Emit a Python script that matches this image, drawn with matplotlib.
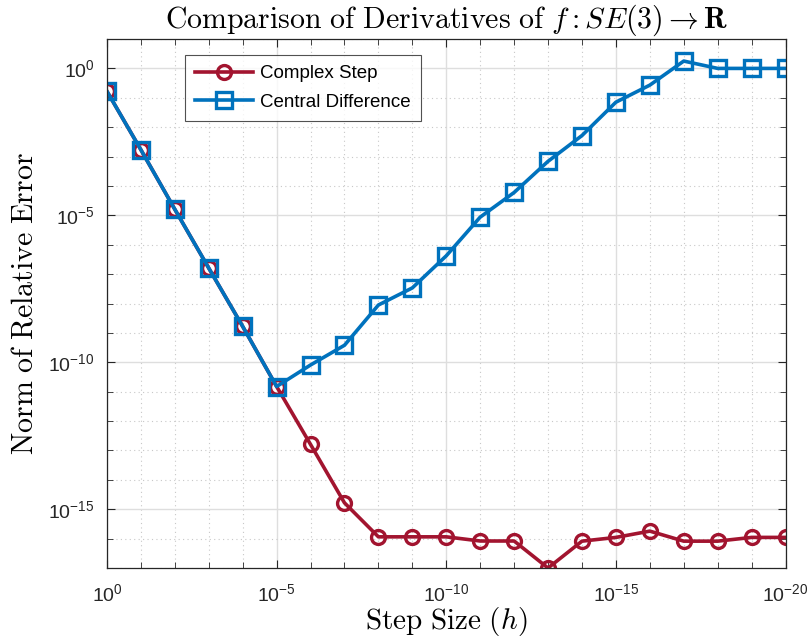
import numpy as np
import matplotlib
matplotlib.use('Agg')
import matplotlib.pyplot as plt
from matplotlib.ticker import NullFormatter

# 눈금 글꼴 (MATLAB 기본 Helvetica 대신 Liberation Sans)
plt.rcParams['font.family'] = ['Liberation Sans', 'DejaVu Sans']
plt.rcParams['mathtext.fontset'] = 'custom'
plt.rcParams['mathtext.rm'] = 'Liberation Sans'
plt.rcParams['mathtext.it'] = 'Liberation Sans:italic'
plt.rcParams['mathtext.bf'] = 'Liberation Sans:bold'

# 데이터: 스텝 크기 지수와 상대 오차
step_exponents = list(range(0, -21, -1))
complex_step_err = [1.66e-1, 1.7e-3, 1.6e-5, 1.6e-7, 1.66e-9, 1.5e-11,
                    1.6e-13, 1.65e-15, 1.15e-16, 1.15e-16, 1.15e-16, 8.3e-17,
                    8.3e-17, 1.0e-17, 8.2e-17, 1.1e-16, 1.8e-16, 8.2e-17,
                    8.2e-17, 1.1e-16, 1.1e-16]
central_diff_err = [1.66e-1, 1.7e-3, 1.6e-5, 1.6e-7, 1.66e-9, 1.5e-11,
                    8.1e-11, 3.8e-10, 8.9e-9, 3.4e-8, 4.2e-7, 8.7e-6,
                    6.0e-5, 6.9e-4, 5.2e-3, 7.1e-2, 2.7e-1, 1.78,
                    1.0, 1.0, 1.0]
x_tick_exponents = [0, -5, -10, -15, -20]
y_tick_exponents = [0, -5, -10, -15]

RED = '#A2142F'
BLUE = '#0072BD'
AXIS_COLOR = '#262626'

fig = plt.figure(figsize=(8.08, 6.44), dpi=100)
ax = fig.add_axes([0.1324, 0.118, 0.8398, 0.8214])

h = 10.0 ** np.array(step_exponents)
ax.plot(h, complex_step_err, '-o', color=RED, lw=2.6, ms=10, mew=2.4,
        mfc='none', label='Complex Step')
ax.plot(h, central_diff_err, '-s', color=BLUE, lw=2.6, ms=11.5, mew=2.4,
        mfc='none', label='Central Difference')

ax.set_xscale('log')
ax.set_yscale('log')
ax.set_xlim(1e0, 1e-20)
ax.set_ylim(1e-17, 1e1)

# 주 눈금 / 보조 눈금
ax.set_xticks([10.0 ** e for e in x_tick_exponents])
ax.set_xticklabels([r'$\mathregular{10^{%d}}$' % e for e in x_tick_exponents])
ax.set_xticks([10.0 ** e for e in step_exponents if e not in x_tick_exponents], minor=True)
ax.set_yticks([10.0 ** e for e in y_tick_exponents])
ax.set_yticklabels([r'$\mathregular{10^{%d}}$' % e for e in y_tick_exponents])
ax.set_yticks([10.0 ** e for e in range(1, -18, -1) if e not in y_tick_exponents], minor=True)
ax.xaxis.set_minor_formatter(NullFormatter())
ax.yaxis.set_minor_formatter(NullFormatter())

ax.tick_params(which='both', direction='in', top=True, right=True,
               color=AXIS_COLOR, labelsize=14, labelcolor=AXIS_COLOR)
ax.tick_params(which='major', length=6, width=0.8)
ax.tick_params(which='minor', length=4, width=0.6)
ax.tick_params(axis='x', which='major', pad=11)
ax.tick_params(axis='y', which='major', pad=9)
for s in ax.spines.values():
    s.set_color(AXIS_COLOR)
    s.set_linewidth(0.9)

# 그리드
ax.grid(True, which='major', color='#dedede', lw=1.0, ls='-')
ax.grid(True, which='minor', color='#c8c8c8', lw=0.8, ls=(0, (1, 3)))
ax.set_axisbelow(True)

# 제목과 축 이름 (Computer Modern)
ax.set_title(r'$\mathrm{Comparison\ of\ Derivatives\ of\ }f:SE(3)\rightarrow\mathbf{R}$',
             fontsize=21.5, math_fontfamily='cm', pad=8)
ax.set_xlabel(r'$\mathrm{Step\ Size\ }(h)$', fontsize=21, math_fontfamily='cm', labelpad=0)
ax.set_ylabel(r'$\mathrm{Norm\ of\ Relative\ Error}$', fontsize=21.5, math_fontfamily='cm', labelpad=7)

# 범례
leg = ax.legend(loc='upper left', bbox_to_anchor=(0.115, 0.97), borderaxespad=0,
                fontsize=13.5, frameon=True, fancybox=False, edgecolor=AXIS_COLOR,
                handlelength=3.1, handletextpad=0.35, borderpad=0.55,
                labelspacing=0.6)
leg.get_frame().set_linewidth(0.8)

fig.savefig('out.png', dpi=100)
